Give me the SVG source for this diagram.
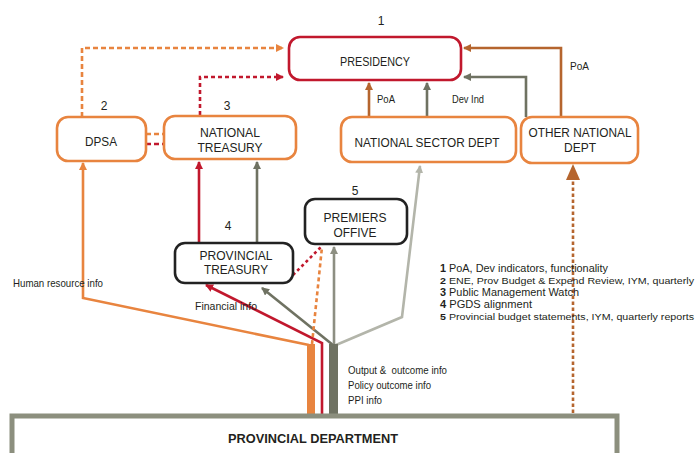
<svg xmlns="http://www.w3.org/2000/svg" width="699" height="453" viewBox="0 0 699 453">
<style>
text{font-family:"Liberation Sans",Arial,sans-serif;fill:#231f20}
.bt{font-size:13px;text-anchor:middle}
.num{font-size:12px;text-anchor:middle}
.lb{font-size:10.5px}
.lg{font-size:10.5px}
.lgs{font-size:9.6px}
.box{fill:#fff;stroke-width:2.6}
.or{stroke:#e8843f}
.rd{stroke:#c1182d}
.bk{stroke:#222}
.ln{fill:none;stroke-width:2.6}
</style>
<defs>
<marker id="aOr" markerUnits="userSpaceOnUse" markerWidth="10" markerHeight="10" refX="7" refY="4" orient="auto"><path d="M0,0 L8,4 L0,8 Z" fill="#e8843f"/></marker>
<marker id="aRd" markerUnits="userSpaceOnUse" markerWidth="10" markerHeight="10" refX="7" refY="4" orient="auto"><path d="M0,0 L8,4 L0,8 Z" fill="#c1182d"/></marker>
<marker id="aBr" markerUnits="userSpaceOnUse" markerWidth="10" markerHeight="10" refX="7" refY="4" orient="auto"><path d="M0,0 L8,4 L0,8 Z" fill="#b5652e"/></marker>
<marker id="aDg" markerUnits="userSpaceOnUse" markerWidth="10" markerHeight="10" refX="7" refY="4" orient="auto"><path d="M0,0 L8,4 L0,8 Z" fill="#6f7262"/></marker>
<marker id="aMg" markerUnits="userSpaceOnUse" markerWidth="10" markerHeight="10" refX="7" refY="4" orient="auto"><path d="M0,0 L8,4 L0,8 Z" fill="#8d8f82"/></marker>
<marker id="aLg" markerUnits="userSpaceOnUse" markerWidth="10" markerHeight="10" refX="7" refY="4" orient="auto"><path d="M0,0 L8,4 L0,8 Z" fill="#b3b5aa"/></marker>
</defs>

<g id="connectors">
<path class="ln" d="M82,117 L82,48 L283,48" stroke="#e8843f" stroke-dasharray="5,3" marker-end="url(#aOr)"/>
<path class="ln" d="M200,115 L200,77 L283,77" stroke="#c1182d" stroke-dasharray="4,3" marker-end="url(#aRd)"/>
<path class="ln" d="M146,134 L164,134" stroke="#e8843f" stroke-dasharray="5,3"/>
<path class="ln" d="M146,144 L164,144" stroke="#c1182d" stroke-dasharray="5,3"/>
<path class="ln" d="M369,117 L369,83" stroke="#b5652e" marker-end="url(#aBr)"/>
<path class="ln" d="M427,117 L427,83" stroke="#6f7262" marker-end="url(#aDg)"/>
<path class="ln" d="M561,117 L561,48 L464,48" stroke="#b5652e" marker-end="url(#aBr)"/>
<path class="ln" d="M526,117 L526,77 L464,77" stroke="#6f7262" marker-end="url(#aDg)"/>
<path class="ln" d="M573,413 L573,178" stroke="#b5652e" stroke-width="3.2" stroke-dasharray="3.5,2.5"/>
<polygon points="566,180 580,180 573,164" fill="#b5652e"/>
<path class="ln" d="M199,243 L199,162" stroke="#c1182d" stroke-width="3" marker-end="url(#aRd)"/>
<path class="ln" d="M257,243 L257,162" stroke="#6f7262" marker-end="url(#aDg)"/>
<path class="ln" d="M309,345 L83,298 L83,163" stroke="#e8843f" stroke-width="2.4" marker-end="url(#aOr)"/>
<rect x="307" y="344" width="8" height="72" fill="#e8843f"/>
<path class="ln" d="M322,416 L322,343 L206,285" stroke="#c1182d" stroke-width="3" marker-end="url(#aRd)"/>
<path class="ln" d="M333,345 L262,288" stroke="#6f7262" marker-end="url(#aDg)"/>
<path class="ln" d="M334,345 L334,247" stroke="#8d8f82" stroke-width="2.4" marker-end="url(#aMg)"/>
<path class="ln" d="M336,345 L402,317 L420,166" stroke="#b3b5aa" stroke-width="2.6" marker-end="url(#aLg)"/>
<rect x="329" y="344" width="9" height="72" fill="#6f7262"/>
<path class="ln" d="M312,344 L322,247" stroke="#e8843f" stroke-width="2.4" stroke-dasharray="4,3"/>
<path class="ln" d="M293,275 L322,246" stroke="#c1182d" stroke-width="2.4" stroke-dasharray="3,3"/>
</g>

<g id="presidency">
<rect class="box rd" x="289" y="37" width="172" height="43" rx="11"/>
<text class="bt" x="375" y="66" textLength="70" lengthAdjust="spacingAndGlyphs">PRESIDENCY</text>
<text class="num" x="381" y="25">1</text>
</g>

<g id="dpsa">
<rect class="box or" x="57" y="117" width="89" height="44" rx="11"/>
<text class="bt" x="101" y="146" textLength="32" lengthAdjust="spacingAndGlyphs">DPSA</text>
<text class="num" x="104" y="110">2</text>
</g>

<g id="national-treasury">
<rect class="box or" x="164" y="116" width="132" height="43" rx="11"/>
<text class="bt" x="230" y="137" textLength="60" lengthAdjust="spacingAndGlyphs">NATIONAL</text>
<text class="bt" x="230" y="152" textLength="65" lengthAdjust="spacingAndGlyphs">TREASURY</text>
<text class="num" x="227" y="110">3</text>
</g>

<g id="national-sector-dept">
<rect class="box or" x="341" y="117" width="175" height="45" rx="11"/>
<text class="bt" x="427" y="147" textLength="145" lengthAdjust="spacingAndGlyphs">NATIONAL SECTOR DEPT</text>
</g>

<g id="other-national-dept">
<rect class="box or" x="521" y="117" width="117" height="46" rx="11"/>
<text class="bt" x="580" y="137" textLength="103" lengthAdjust="spacingAndGlyphs">OTHER NATIONAL</text>
<text class="bt" x="580" y="152" textLength="32" lengthAdjust="spacingAndGlyphs">DEPT</text>
</g>

<g id="provincial-treasury">
<rect class="box bk" x="175" y="243" width="118" height="40" rx="10" stroke-width="3"/>
<text class="bt" x="236" y="260" textLength="73" lengthAdjust="spacingAndGlyphs">PROVINCIAL</text>
<text class="bt" x="236" y="274" textLength="64" lengthAdjust="spacingAndGlyphs">TREASURY</text>
<text class="num" x="228" y="230">4</text>
</g>

<g id="premiers-office">
<rect class="box bk" x="305" y="199" width="102" height="45" rx="10" stroke-width="3"/>
<text class="bt" x="355" y="222" textLength="63" lengthAdjust="spacingAndGlyphs">PREMIERS</text>
<text class="bt" x="355" y="237" textLength="43" lengthAdjust="spacingAndGlyphs">OFFIVE</text>
<text class="num" x="355" y="195">5</text>
</g>

<g id="provincial-department">
<rect x="12" y="416" width="605" height="60" fill="none" stroke="#8c8f7e" stroke-width="5"/>
<text x="313" y="443" font-size="13" font-weight="bold" text-anchor="middle" textLength="170" lengthAdjust="spacingAndGlyphs">PROVINCIAL DEPARTMENT</text>
</g>

<g id="labels">
<text class="lb" x="377" y="103" textLength="18" lengthAdjust="spacingAndGlyphs">PoA</text>
<text class="lb" x="452" y="103" textLength="32" lengthAdjust="spacingAndGlyphs">Dev Ind</text>
<text class="lb" x="570" y="70" textLength="19" lengthAdjust="spacingAndGlyphs">PoA</text>
<text class="lb" x="13" y="287" textLength="90" lengthAdjust="spacingAndGlyphs">Human resource info</text>
<text class="lb" x="195" y="310" textLength="62" lengthAdjust="spacingAndGlyphs">Financial info</text>
<text class="lb" x="348" y="374" textLength="99" lengthAdjust="spacingAndGlyphs" xml:space="preserve">Output &amp;  outcome info</text>
<text class="lb" x="348" y="389" textLength="83" lengthAdjust="spacingAndGlyphs">Policy outcome info</text>
<text class="lb" x="348" y="404" textLength="34" lengthAdjust="spacingAndGlyphs">PPI info</text>
</g>

<g id="legend">
<text class="lg" x="440" y="272" textLength="168" lengthAdjust="spacingAndGlyphs"><tspan font-weight="bold">1</tspan> PoA, Dev indicators, functionality</text>
<text class="lgs" x="440" y="284" textLength="254" lengthAdjust="spacingAndGlyphs"><tspan font-weight="bold">2</tspan> ENE, Prov Budget &amp; Expend Review, IYM, quarterly</text>
<text class="lg" x="440" y="296" textLength="139" lengthAdjust="spacingAndGlyphs"><tspan font-weight="bold">3</tspan> Public Management Watch</text>
<text class="lg" x="440" y="308" textLength="92" lengthAdjust="spacingAndGlyphs"><tspan font-weight="bold">4</tspan> PGDS alignment</text>
<text class="lgs" x="440" y="320" textLength="254" lengthAdjust="spacingAndGlyphs"><tspan font-weight="bold">5</tspan> Provincial budget statements, IYM, quarterly reports</text>
</g>
</svg>
